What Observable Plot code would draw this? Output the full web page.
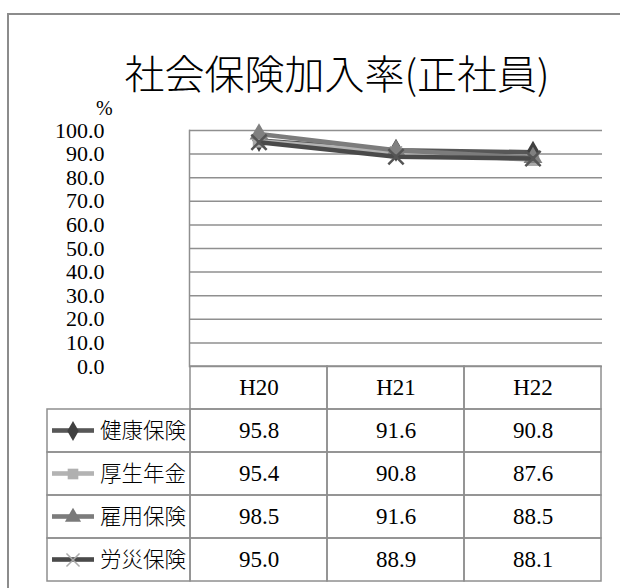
<!DOCTYPE html>
<html>
<head>
<meta charset="utf-8">
<script src="https://cdn.jsdelivr.net/npm/d3@7"></script>
<script src="https://cdn.jsdelivr.net/npm/@observablehq/plot@0.6"></script>
<style>
  html, body { margin: 0; padding: 0; background: #fff; }
  #wrap { position: relative; width: 620px; height: 588px; overflow: hidden; background: #fff; }
  #border { position: absolute; left: 7px; top: 13px; width: 700px; height: 700px;
            border-left: 2px solid #8c8c8c; border-top: 2px solid #8c8c8c; }
  #title { position: absolute; left: 0; width: 674px; top: 44px; line-height: 56px; text-align: center;
           font-family: "Noto Sans CJK JP", sans-serif; font-weight: 300; font-size: 40px; color: #000; white-space: nowrap; }
  #pct { position: absolute; left: 96px; top: 99px; line-height: 19px; font-family: "Liberation Serif", "Times New Roman", "DejaVu Serif", serif; font-size: 20px; color: #000; }
  #chart, #table { position: absolute; left: 0; }
  #chart { top: 0; }
  #table { top: 364px; }
</style>
</head>
<body>
<div id="wrap">
  <div id="border"></div>
  <div id="chart"></div>
  <div id="table"></div>
  <div id="title">社会保険加入率(正社員)</div>
  <div id="pct">%</div>
</div>
<script>
// ---- data ----
const categories = ["H20", "H21", "H22"];
const seriesNames = ["健康保険", "厚生年金", "雇用保険", "労災保険"];
const kenkoHoken = [95.8, 91.6, 90.8];
const koseiNenkin = [95.4, 90.8, 87.6];
const koyoHoken = [98.5, 91.6, 88.5];
const rosaiHoken = [95.0, 88.9, 88.1];
const yTicks = [0, 10, 20, 30, 40, 50, 60, 70, 80, 90, 100];

const seriesValues = [kenkoHoken, koseiNenkin, koyoHoken, rosaiHoken];

// ---- styles ----
const lineColor = {"健康保険": "#575757", "厚生年金": "#b3b3b3", "雇用保険": "#7c7c7c", "労災保険": "#4a4a4a"};
const markColor = {"健康保険": "#404040", "厚生年金": "#a8a8a8", "雇用保険": "#808080", "労災保険": "#555555"};
const legendMarkColor = {"健康保険": "#404040", "厚生年金": "#b0b0b0", "雇用保険": "#7a7a7a", "労災保険": "#aaaaaa"};
const symbolOf = {"健康保険": "diamond", "厚生年金": "square", "雇用保険": "triangle", "労災保険": "times"};
const gridColor = "#8f8f8f";
const serif = "Liberation Serif, Times New Roman, DejaVu Serif, serif";
const gothic = "Noto Sans CJK JP, sans-serif";

const rows = [];
seriesNames.forEach((s, i) => categories.forEach((c, j) => rows.push({series: s, cat: c, value: seriesValues[i][j]})));

// ---- chart ----
const seriesMarks = [];
for (const s of seriesNames) {
  const d = rows.filter(r => r.series === s);
  seriesMarks.push(Plot.line(d, {x: "cat", y: "value", stroke: lineColor[s], strokeWidth: 4.5}));
  const sym = symbolOf[s];
  if (sym === "times") {
    seriesMarks.push(Plot.dot(d, {x: "cat", y: "value", symbol: sym, r: 7, stroke: markColor[s], strokeWidth: 2.5, fill: "none"}));
  } else {
    seriesMarks.push(Plot.dot(d, {x: "cat", y: "value", symbol: sym, r: 7, fill: markColor[s], stroke: "none"}));
  }
}

const chart = Plot.plot({
  width: 620, height: 380,
  marginLeft: 189, marginRight: 18, marginTop: 130, marginBottom: 14,
  x: {type: "band", domain: categories, padding: 0, axis: null},
  y: {domain: [0, 100], axis: null},
  style: {background: "none", overflow: "visible", fontFamily: serif},
  marks: [
    Plot.ruleY(yTicks, {stroke: gridColor, strokeWidth: 1.5}),
    Plot.frame({anchor: "left", stroke: gridColor, strokeWidth: 1.5}),
    Plot.axisY(yTicks, {tickSize: 0, tickPadding: 85, tickFormat: d => d.toFixed(1),
      fontSize: 22, fontFamily: serif, fill: "#000", label: null}),
    ...seriesMarks
  ]
});
document.getElementById("chart").append(chart);

// ---- data table ----
const tableCols = ["", ...categories];
const bandW = (620 - 189 - 18) / 3;
const rowH = 217 / 5;
const table = Plot.plot({
  width: 620, height: 219,
  marginLeft: 189 - bandW, marginRight: 18, marginTop: 1, marginBottom: 1,
  x: {type: "band", domain: tableCols, padding: 0, axis: null},
  y: {type: "band", domain: ["head", ...seriesNames], padding: 0, axis: null},
  style: {background: "none", overflow: "visible", fontFamily: serif},
  marks: [
    Plot.cell(categories, {x: d => d, y: () => "head", inset: 0, fill: "none", stroke: gridColor, strokeWidth: 1.5}),
    Plot.cell(rows, {x: "cat", y: "series", inset: 0, fill: "none", stroke: gridColor, strokeWidth: 1.5}),
    Plot.cell(seriesNames, {x: () => "", y: d => d, inset: 0, insetLeft: -6, fill: "none", stroke: gridColor, strokeWidth: 1.5}),
    Plot.text(categories, {x: d => d, y: () => "head", text: d => d, fontSize: 23, fontFamily: serif, fill: "#000"}),
    Plot.text(rows, {x: "cat", y: "series", text: d => d.value.toFixed(1), fontSize: 23, fontFamily: serif, fill: "#000"}),
    Plot.text(seriesNames, {x: () => "", y: d => d, text: d => d, textAnchor: "start", dx: -22,
      fontSize: 21.5, fontFamily: gothic, fontWeight: 300, fill: "#000"}),
    // legend line samples
    Plot.cell(seriesNames, {x: () => "", y: d => d, insetLeft: -1, insetRight: 96,
      insetTop: rowH / 2 - 2.5, insetBottom: rowH / 2 - 2.5, fill: d => lineColor[d]}),
    // legend markers
    Plot.dot(seriesNames.filter(s => symbolOf[s] !== "times"), {x: () => "", y: d => d, dx: -49,
      symbol: d => symbolOf[d], r: 6, fill: d => legendMarkColor[d], stroke: "none"}),
    Plot.dot(seriesNames.filter(s => symbolOf[s] === "times"), {x: () => "", y: d => d, dx: -49,
      symbol: "times", r: 6, stroke: d => legendMarkColor[d], strokeWidth: 1.5, fill: "none"})
  ]
});
document.getElementById("table").append(table);
</script>
</body>
</html>
